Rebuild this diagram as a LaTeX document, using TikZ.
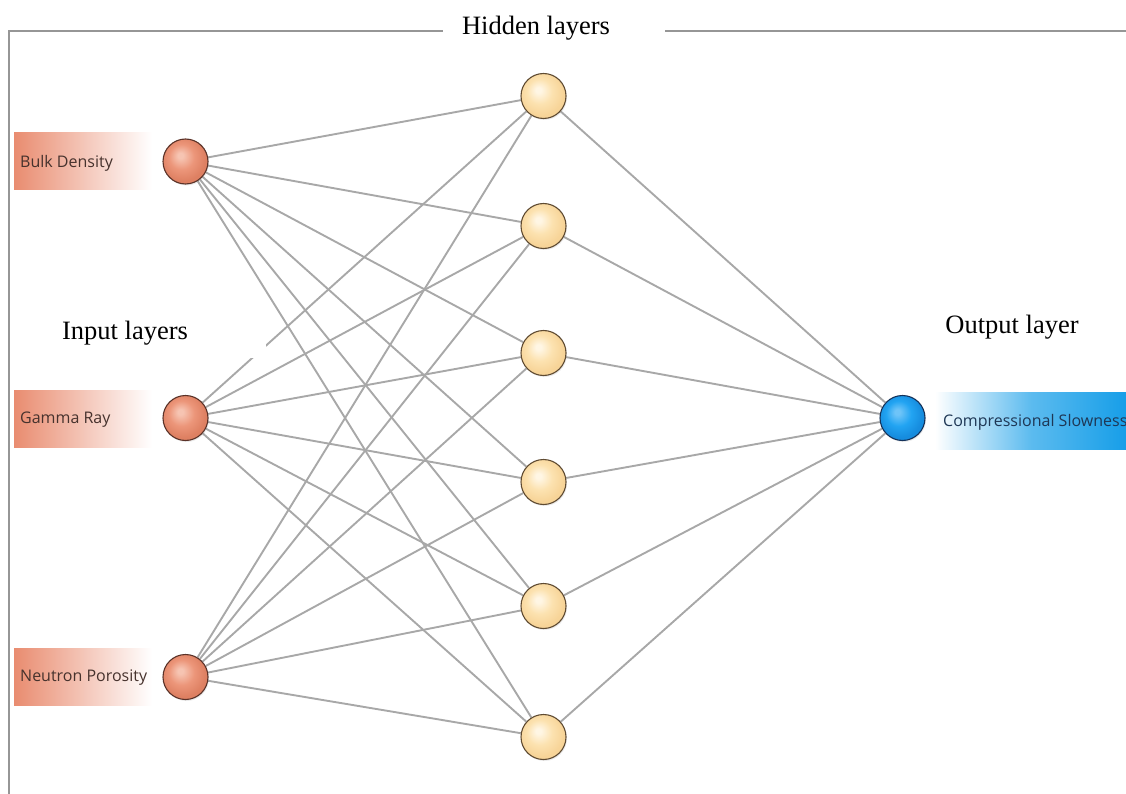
\documentclass[tikz,border=0pt]{standalone}
\usepackage{fontspec}
\setmainfont{Liberation Serif}
\newfontfamily\uifont{Open Sans}
\usetikzlibrary{backgrounds,shadows}
\definecolor{inlight}{RGB}{246,196,178}
\definecolor{inbase}{RGB}{236,150,122}
\definecolor{indark}{RGB}{222,128,98}
\definecolor{hlight}{RGB}{255,246,228}
\definecolor{hbase}{RGB}{252,226,176}
\definecolor{hdark}{RGB}{247,212,152}
\definecolor{olight}{RGB}{110,196,248}
\definecolor{obase}{RGB}{34,164,242}
\definecolor{odark}{RGB}{22,140,222}
\definecolor{edgecol}{RGB}{168,168,168}
\definecolor{framecol}{RGB}{150,150,150}
\definecolor{inlab}{RGB}{233,140,112}
\definecolor{outlab}{RGB}{22,158,232}
\definecolor{intext}{RGB}{70,50,45}
\definecolor{outtext}{RGB}{30,55,85}
\pgfdeclareradialshading{inshade}{\pgfpoint{-6bp}{7bp}}{color(0bp)=(inlight); color(3bp)=(inlight); color(14bp)=(inbase); color(25bp)=(indark); color(50bp)=(indark)}
\pgfdeclareradialshading{hshade}{\pgfpoint{-6bp}{7bp}}{color(0bp)=(hlight); color(3bp)=(hlight); color(14bp)=(hbase); color(25bp)=(hdark); color(50bp)=(hdark)}
\pgfdeclareradialshading{oshade}{\pgfpoint{-6bp}{7bp}}{color(0bp)=(olight); color(3bp)=(olight); color(14bp)=(obase); color(25bp)=(odark); color(50bp)=(odark)}
\tikzset{
  neuron/.style={circle, inner sep=0pt, minimum size=45pt, line width=1.1pt,
    drop shadow={opacity=0.16, shadow xshift=1pt, shadow yshift=-1.5pt}},
  inneuron/.style={neuron, shading=inshade, draw={rgb,255:red,90;green,50;blue,40}},
  hneuron/.style={neuron, shading=hshade, draw={rgb,255:red,95;green,75;blue,50}},
  oneuron/.style={neuron, shading=oshade, draw={rgb,255:red,20;green,50;blue,90}},
  edge/.style={draw=edgecol, line width=1.9pt},
  inlabel/.style={rectangle, minimum width=138pt, minimum height=57pt, inner sep=0pt,
    left color=inlab, right color=white, middle color=inlab!50!white},
  outlabel/.style={rectangle, minimum width=192pt, minimum height=57pt, inner sep=0pt,
    left color=white, right color=outlab, middle color=outlab!70!white},
  labtext/.style={font=\uifont\fontsize{16}{19}\selectfont, anchor=west, inner sep=0pt},
  title/.style={font=\fontsize{26.5}{31}\selectfont, inner sep=0pt, anchor=base},
  framestyle/.style={draw=framecol, line width=1.2pt}
}
\begin{document}
\begin{tikzpicture}[x=1pt,y=-1pt]
\useasboundingbox (0,0) rectangle (1126,794);
% frame
\coordinate (f0) at (9,794);
\coordinate (f1) at (9,31);
\coordinate (f2) at (443,31);
\coordinate (f3) at (665,31);
\coordinate (f4) at (1130,31);
\draw[framestyle] (f0) -- (f1) -- (f2);
\draw[framestyle] (f3) -- (f4);
\node[title] (thid) at (536,35) {Hidden layers};
% label boxes
\node[inlabel] (lb1) at (83,161.5) {};
\node[inlabel] (lb2) at (83,418.5) {};
\node[inlabel] (lb3) at (83,676.5) {};
\node[labtext, text=intext] (tb1) at (20,163) {Bulk Density};
\node[labtext, text=intext] (tb2) at (20,420) {Gamma Ray};
\node[labtext, text=intext] (tb3) at (20,678) {Neutron Porosity};
\node[outlabel] (lbo) at (1031,420.5) {};
\node[labtext, text=outtext] (tbo) at (943,422) {Compressional Slowness};
% neurons
\node[inneuron] (i1) at (185.5,161.5) {};
\node[inneuron] (i2) at (185.5,418) {};
\node[inneuron] (i3) at (185.5,677) {};
\node[hneuron] (h1) at (543.5,96) {};
\node[hneuron] (h2) at (543.5,226) {};
\node[hneuron] (h3) at (543.5,353) {};
\node[hneuron] (h4) at (543.5,482) {};
\node[hneuron] (h5) at (543.5,606) {};
\node[hneuron] (h6) at (543.5,737) {};
\node[oneuron] (o1) at (902.5,418) {};
% edges
\begin{scope}[on background layer]
\foreach \h in {1,...,6} {
  \draw[edge] (i3) -- (h\h);
}
\foreach \h in {1,...,6} {
  \draw[edge] (i2) -- (h\h);
}
\fill[white] (40,298) rectangle (266,358);
\foreach \h in {1,...,6} {
  \draw[edge] (i1) -- (h\h);
  \draw[edge] (h\h) -- (o1);
}
\end{scope}
% titles
\node[title] (tin) at (125,339) {Input layers};
\node[title] (tout) at (1012,333) {Output layer};
\end{tikzpicture}
\end{document}
